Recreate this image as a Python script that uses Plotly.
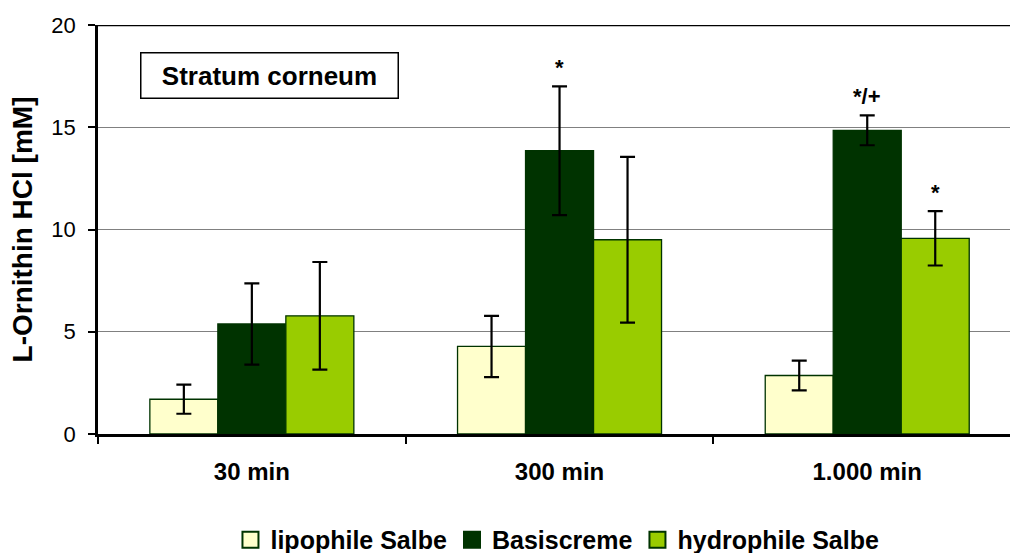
import plotly.graph_objects as go

# Sampling times (categories)
times = ["30 min", "300 min", "1.000 min"]

# Mean L-Ornithin HCl concentration [mM] per formulation
lipophile = [1.70, 4.28, 2.86]
basiscreme = [5.38, 13.85, 14.85]
hydrophile = [5.78, 9.50, 9.57]

# Standard deviations
lipophile_sd = [0.71, 1.50, 0.73]
basiscreme_sd = [1.99, 3.15, 0.73]
hydrophile_sd = [2.63, 4.05, 1.33]

# Significance markers above the bars
basiscreme_sig = ["", "*", "*/+"]
hydrophile_sig = ["", "", "*"]

y_ticks = [0, 5, 10, 15, 20]

FONT = "Liberation Sans, Arial, sans-serif"
EDGE = "#003300"
BARGAP = 0.337

series = [
    ("lipophile Salbe", lipophile, lipophile_sd, "#FFFFCC"),
    ("Basiscreme", basiscreme, basiscreme_sd, "#003300"),
    ("hydrophile Salbe", hydrophile, hydrophile_sd, "#99CC00"),
]

fig = go.Figure()
for name, vals, sd, color in series:
    fig.add_trace(go.Bar(
        x=times, y=vals, name=name, showlegend=False,
        marker=dict(color=color, line=dict(color=EDGE, width=1.3)),
        error_y=dict(type="data", array=sd, visible=True,
                     color="black", thickness=2.2, width=7.5),
    ))

# legend entries with larger square swatches
for name, vals, sd, color in series:
    fig.add_trace(go.Scatter(
        x=[None], y=[None], mode="markers", name=f"<b>{name}</b>",
        marker=dict(symbol="square", size=16, color=color,
                    line=dict(color=EDGE, width=2)),
    ))

# significance labels, placed over the matching bar of each group
bar_w = (1 - BARGAP) / 3
annotations = []
for offset, vals, sd, sig in [(0.0, basiscreme, basiscreme_sd, basiscreme_sig),
                              (bar_w, hydrophile, hydrophile_sd, hydrophile_sig)]:
    for i, s in enumerate(sig):
        if s:
            annotations.append(dict(
                x=i + offset, y=vals[i] + sd[i], xref="x", yref="y",
                text=f"<b>{s}</b>", showarrow=False, yanchor="bottom",
                yshift=4, font=dict(family=FONT, size=22, color="black"),
            ))

# panel label box
annotations.append(dict(
    x=0.1878, y=0.8765, xref="paper", yref="paper",
    text="<b>Stratum corneum</b>", showarrow=False,
    xanchor="center", yanchor="middle",
    width=254, height=42, borderpad=1,
    bordercolor="black", borderwidth=1.5, bgcolor="white",
    font=dict(family=FONT, size=26, color="black"),
))

fig.update_layout(
    width=1010, height=553,
    margin=dict(l=98, r=0, t=25, b=119, autoexpand=False),
    paper_bgcolor="white", plot_bgcolor="white",
    barmode="group", bargap=BARGAP, bargroupgap=0,
    font=dict(family=FONT, color="black"),
    showlegend=True,
    legend=dict(orientation="h", x=0.5038, y=-0.259,
                xanchor="center", yanchor="middle",
                font=dict(family=FONT, size=25, color="black"),
                traceorder="normal", itemwidth=30, tracegroupgap=0),
    annotations=annotations,
    shapes=[dict(type="line", xref="paper", yref="y", x0=0, x1=1,
                 y0=20, y1=20, line=dict(color="black", width=2.5))],
)

fig.update_xaxes(
    type="category", range=[-0.5, 2.464],
    showline=True, linecolor="black", linewidth=2.5,
    ticks="outside", tickson="boundaries", ticklen=7,
    tickcolor="black", tickwidth=2,
    ticklabelstandoff=14,
    tickfont=dict(family=FONT, size=24, color="black"),
    tickprefix="<b>", ticksuffix="</b>",
    showgrid=False, zeroline=False,
)

fig.update_yaxes(
    range=[0, 20], tickvals=y_ticks,
    showline=True, linecolor="black", linewidth=2.5,
    ticks="outside", ticklen=7, tickcolor="black", tickwidth=2,
    ticklabelstandoff=8,
    tickfont=dict(family=FONT, size=22, color="black"),
    showgrid=True, gridcolor="#808080", gridwidth=1,
    zeroline=False,
    title=dict(text="<b>L-Ornithin HCl [mM]</b>", standoff=11,
               font=dict(family=FONT, size=28, color="black")),
)

fig.write_html("out.html")
